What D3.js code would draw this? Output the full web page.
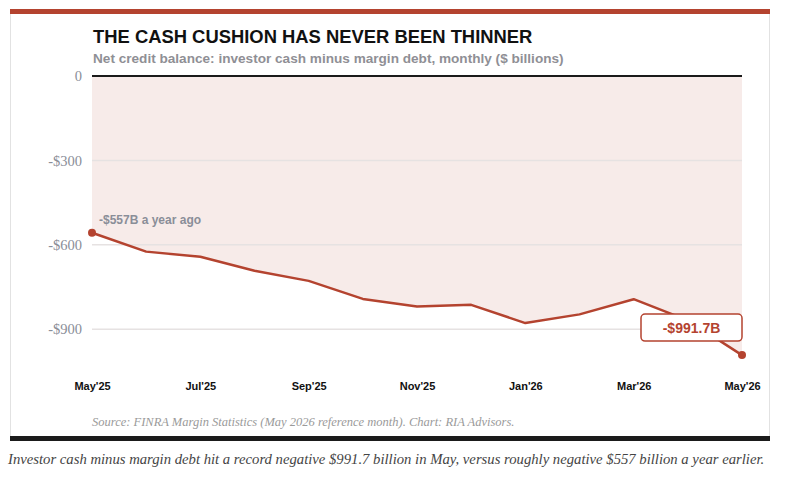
<!DOCTYPE html>
<html>
<head>
<meta charset="utf-8">
<script src="https://cdn.jsdelivr.net/npm/d3@7/dist/d3.min.js"></script>
<style>
  body { margin: 0; background: #fff; }
  svg { display: block; }
</style>
</head>
<body>
<svg id="chart"></svg>
<script>
// chart size
var width = 792;
var height = 480;

// data: net credit balance, $ billions
var months = ["May'25", "Jun'25", "Jul'25", "Aug'25", "Sep'25", "Oct'25", "Nov'25",
              "Dec'25", "Jan'26", "Feb'26", "Mar'26", "Apr'26", "May'26"];
var balance = [-557, -624, -642, -692, -728, -792, -819, -813, -878, -847, -793, -868, -991.7];
var yTicks = [0, -300, -600, -900];
var yTickLabels = ["0", "-$300", "-$600", "-$900"];
var xTickLabels = ["May'25", "Jul'25", "Sep'25", "Nov'25", "Jan'26", "Mar'26", "May'26"];

var red = '#b4432f';
var sans = "'Liberation Sans', Arial, sans-serif";
var serif = "Georgia, 'Liberation Serif', serif";

var svg = d3.select('#chart')
  .attr('width', width)
  .attr('height', height);

// card
svg.append('rect')
  .attr('x', 10.5).attr('y', 9.5)
  .attr('width', 759).attr('height', 428)
  .attr('fill', '#fff')
  .attr('stroke', '#e2e2e2');
svg.append('rect')
  .attr('x', 10).attr('y', 9)
  .attr('width', 760).attr('height', 5)
  .attr('fill', red);
svg.append('rect')
  .attr('x', 10).attr('y', 436)
  .attr('width', 760).attr('height', 5)
  .attr('fill', '#1b1b1b');

// titles
svg.append('text')
  .attr('x', 93).attr('y', 43)
  .attr('font-family', sans).attr('font-weight', 'bold')
  .attr('font-size', 18.4).attr('fill', '#111')
  .text('THE CASH CUSHION HAS NEVER BEEN THINNER');
svg.append('text')
  .attr('x', 93).attr('y', 63)
  .attr('font-family', sans).attr('font-weight', 'bold')
  .attr('font-size', 13.6).attr('fill', '#8f8f95')
  .text('Net credit balance: investor cash minus margin debt, monthly ($ billions)');

// scales
var x = d3.scalePoint()
  .domain(months)
  .range([92, 742]);

var y = d3.scaleLinear()
  .domain([0, -900])
  .range([76, 329.3]);

// area between zero and the line
var area = d3.area()
  .x((d, i) => x(months[i]))
  .y0(y(0))
  .y1(d => y(d));

svg.append('path')
  .datum(balance)
  .attr('d', area)
  .attr('fill', '#f7ebe9');

// gridlines
svg.selectAll('.grid')
  .data(yTicks.slice(1))
  .enter()
    .append('line')
      .attr('x1', 92).attr('x2', 742)
      .attr('y1', d => y(d)).attr('y2', d => y(d))
      .attr('stroke', '#e6e2e2')
      .attr('stroke-width', 1.5);

// zero line
svg.append('line')
  .attr('x1', 92).attr('x2', 742)
  .attr('y1', y(0)).attr('y2', y(0))
  .attr('stroke', '#1a1a1a')
  .attr('stroke-width', 2);

// y axis labels
var yAxis = d3.axisLeft(y)
  .tickValues(yTicks)
  .tickFormat((d, i) => yTickLabels[i])
  .tickSize(0)
  .tickPadding(0);

var yG = svg.append('g')
  .attr('transform', 'translate(82,0)')
  .call(yAxis);
yG.select('.domain').remove();
yG.selectAll('text')
  .attr('font-family', serif)
  .attr('font-size', 14.5)
  .attr('fill', '#8a8e98');

// x axis labels
var xAxis = d3.axisBottom(x)
  .tickValues(xTickLabels)
  .tickSize(0)
  .tickPadding(0);

var xG = svg.append('g')
  .attr('transform', 'translate(0,382)')
  .call(xAxis);
xG.select('.domain').remove();
xG.selectAll('text')
  .attr('font-family', sans)
  .attr('font-weight', 'bold')
  .attr('font-size', 11)
  .attr('fill', '#111');

// line
var line = d3.line()
  .x((d, i) => x(months[i]))
  .y(d => y(d));

svg.append('path')
  .datum(balance)
  .attr('d', line)
  .attr('fill', 'none')
  .attr('stroke', red)
  .attr('stroke-width', 2.5)
  .attr('stroke-linejoin', 'round');

// end points
var last = balance.length - 1;
svg.selectAll('.dot')
  .data([0, last])
  .enter()
    .append('circle')
      .attr('cx', i => x(months[i]))
      .attr('cy', i => y(balance[i]))
      .attr('r', 4)
      .attr('fill', red);

// start annotation
svg.append('text')
  .attr('x', x(months[0]) + 7)
  .attr('y', y(balance[0]) - 9)
  .attr('font-family', sans).attr('font-weight', 'bold')
  .attr('font-size', 12).attr('fill', '#8a8e98')
  .text('-$557B a year ago');

// end label box
var bx = x(months[last]) - 101;
var by = y(balance[last]) - 41;
svg.append('rect')
  .attr('x', bx).attr('y', by)
  .attr('width', 101).attr('height', 27)
  .attr('rx', 4)
  .attr('fill', '#fff')
  .attr('stroke', red)
  .attr('stroke-width', 1.5);
svg.append('text')
  .attr('x', bx + 50.5).attr('y', by + 18.5)
  .attr('text-anchor', 'middle')
  .attr('font-family', sans).attr('font-weight', 'bold')
  .attr('font-size', 14).attr('fill', red)
  .text('-$991.7B');

// source
svg.append('text')
  .attr('x', 92).attr('y', 426)
  .attr('font-family', serif).attr('font-style', 'italic')
  .attr('font-size', 12.5).attr('fill', '#9a9a9a')
  .text('Source: FINRA Margin Statistics (May 2026 reference month). Chart: RIA Advisors.');

// caption
svg.append('text')
  .attr('x', 8).attr('y', 464)
  .attr('font-family', serif).attr('font-style', 'italic')
  .attr('font-size', 14.7).attr('fill', '#444')
  .text('Investor cash minus margin debt hit a record negative $991.7 billion in May, versus roughly negative $557 billion a year earlier.');
</script>
</body>
</html>
